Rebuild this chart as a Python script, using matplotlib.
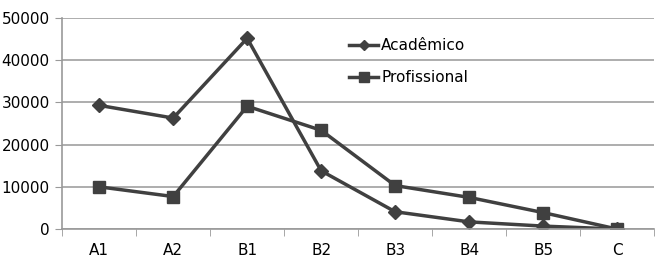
import matplotlib.pyplot as plt

plt.rcParams['font.family'] = ['Liberation Sans Narrow', 'DejaVu Sans']

categories = ['A1', 'A2', 'B1', 'B2', 'B3', 'B4', 'B5', 'C']
academico = [29300, 26300, 45200, 13800, 4100, 1700, 700, 0]
profissional = [10000, 7700, 29100, 23400, 10300, 7500, 3900, 0]

fig = plt.figure(figsize=(6.62, 2.73), dpi=100)
ax = fig.add_axes([0.094, 0.161, 0.894, 0.773])

x = list(range(len(categories)))
ax.plot(x, academico, color='#404040', linewidth=2.5, marker='D', markersize=7, label='Acadêmico')
ax.plot(x, profissional, color='#404040', linewidth=2.5, marker='s', markersize=9, label='Profissional')

ax.set_xlim(-0.5, len(categories) - 0.5)
ax.set_ylim(0, 50000)
ax.set_yticks(range(0, 50001, 10000))
ax.set_xticks(x)
ax.set_xticklabels(categories)
ax.set_xticks([i - 0.5 for i in range(len(categories) + 1)], minor=True)
ax.tick_params(axis='x', which='major', length=0, pad=10, labelsize=11)
ax.tick_params(axis='x', which='minor', length=5, color='#999999')
ax.tick_params(axis='y', length=5, color='#999999', labelsize=11, pad=4)

ax.grid(axis='y', color='#a0a0a0', linewidth=1.2)
ax.set_axisbelow(True)
for s in ['top', 'right']:
    ax.spines[s].set_visible(False)
for s in ['left', 'bottom']:
    ax.spines[s].set_color('#999999')
    ax.spines[s].set_linewidth(1.2)

ax.legend(loc='upper left', bbox_to_anchor=(0.485, 0.905), frameon=False, fontsize=11,
          handlelength=1.9, labelspacing=1.1, handletextpad=0.2, borderaxespad=0,
          markerscale=0.75, borderpad=0)

fig.savefig('out.png', dpi=100)
